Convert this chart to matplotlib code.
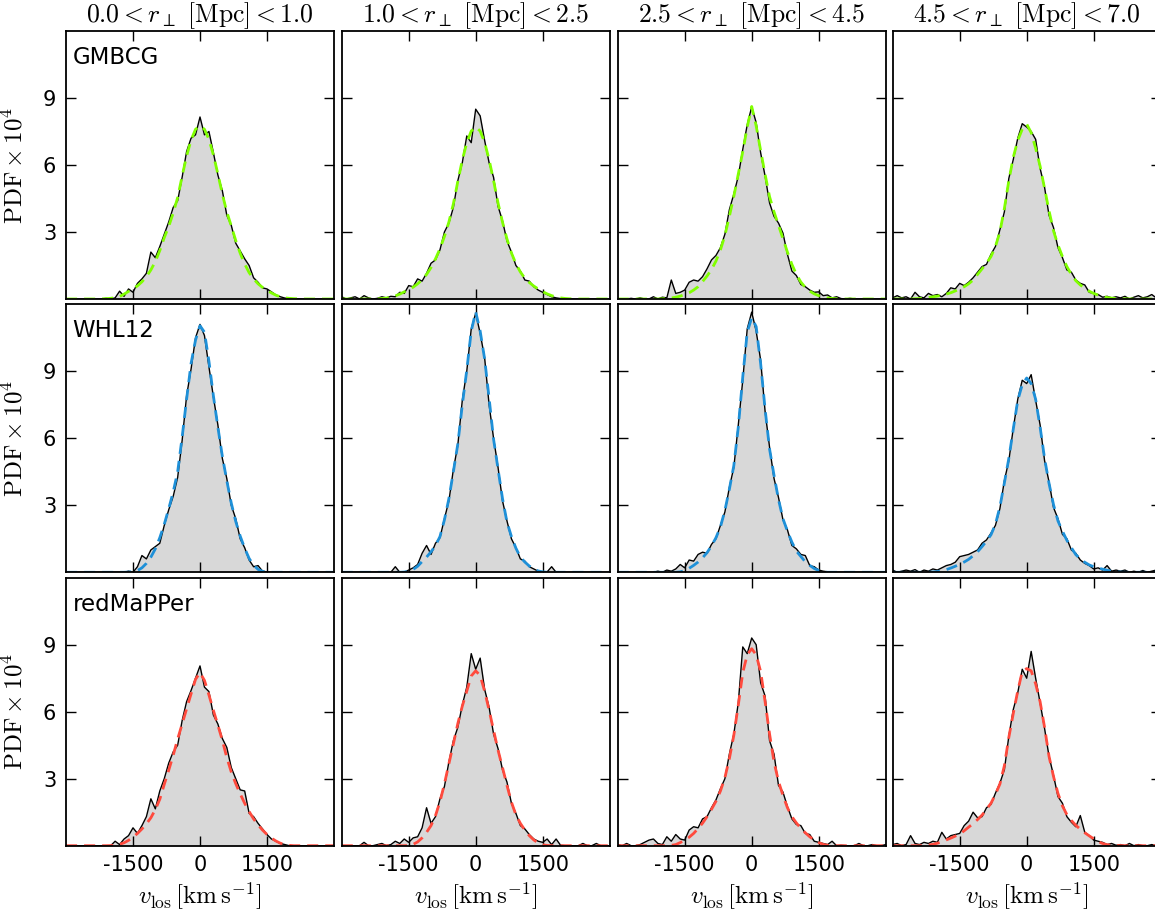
import numpy as np
import matplotlib.pyplot as plt

plt.rcParams['mathtext.fontset'] = 'cm'
plt.rcParams['font.family'] = 'DejaVu Sans'
plt.rcParams['axes.unicode_minus'] = False

# velocity grid, -3000 ... 3000 km/s in 100 km/s steps
v = np.arange(-3000, 3001, 100)

col_titles = [r'$0.0 < r_\perp\ [\mathrm{Mpc}] < 1.0$',
              r'$1.0 < r_\perp\ [\mathrm{Mpc}] < 2.5$',
              r'$2.5 < r_\perp\ [\mathrm{Mpc}] < 4.5$',
              r'$4.5 < r_\perp\ [\mathrm{Mpc}] < 7.0$']
catalogs = ['GMBCG', 'WHL12', 'redMaPPer']
fit_colors = ['#80ff00', '#1e90d8', '#ff4a3d']

# ---- GMBCG ----
gmbcg_hist_1 = [0, 0, 0, 0, 0, 0, 0, 0, 0, 0.03, 0,
                0.05, 0.35, 0.12, 0.45, 0.3, 0.7, 0.9, 1.15, 2.1, 1.85,
                2.35, 2.9, 3.45, 4.1, 4.4, 5.45, 6.6, 7.2, 7.35, 8.15,
                7.35, 7.5, 6.55, 5.55, 4.85, 3.75, 3.3, 2.5, 2.15, 1.8,
                1.5, 0.95, 0.75, 0.5, 0.45, 0.32, 0.18, 0.1, 0.04, 0.02,
                0, 0.01, 0, 0, 0, 0, 0, 0, 0, 0]
gmbcg_fit_1 = [0, 0, 0, 0, 0, 0, 0, 0, 0.007, 0.015, 0.03,
               0.058, 0.11, 0.22, 0.34, 0.45, 0.59, 0.77, 1.0, 1.3, 1.68,
               2.17, 2.75, 3.25, 3.85, 4.55, 5.5, 6.4, 7.12, 7.6, 7.75,
               7.6, 7.15, 6.45, 5.6, 4.7, 3.9, 3.27, 2.62, 2.05, 1.57,
               1.18, 0.9, 0.68, 0.52, 0.39, 0.27, 0.17, 0.095, 0.053, 0.03,
               0.015, 0.007, 0, 0, 0, 0, 0, 0, 0, 0]
gmbcg_hist_2 = [0.1, 0, 0.05, 0.1, 0, 0.15, 0.05, 0, 0.03, 0.1, 0.05,
                0.12, 0.1, 0.3, 0.25, 0.6, 0.55, 0.9, 0.8, 1.15, 1.6,
                1.75, 2.2, 3.0, 3.4, 4.1, 5.3, 6.1, 7.3, 7.0, 8.5,
                8.2, 7.1, 6.1, 5.45, 4.15, 3.5, 2.6, 2.1, 1.5, 1.25,
                0.85, 0.8, 0.55, 0.4, 0.3, 0.2, 0.1, 0.05, 0.02, 0,
                0, 0, 0, 0, 0, 0, 0, 0, 0, 0]
gmbcg_fit_2 = [0, 0, 0, 0, 0, 0, 0, 0, 0.01, 0.02, 0.04,
               0.08, 0.14, 0.22, 0.32, 0.41, 0.53, 0.68, 0.86, 1.1, 1.41,
               1.8, 2.25, 2.8, 3.45, 4.26, 5.27, 6.22, 7.0, 7.52, 7.7,
               7.52, 7.01, 6.24, 5.3, 4.3, 3.44, 2.69, 2.06, 1.58, 1.21,
               0.93, 0.74, 0.58, 0.45, 0.33, 0.23, 0.15, 0.09, 0.05, 0.025,
               0.01, 0.005, 0, 0, 0, 0, 0, 0, 0, 0]
gmbcg_hist_3 = [0, 0, 0, 0.03, 0, 0.05, 0, 0, 0.1, 0, 0.08,
                0.05, 0.85, 0.25, 0.3, 0.4, 0.75, 0.85, 0.8, 1.0, 1.35,
                1.75, 1.95, 2.3, 2.9, 4.0, 4.7, 5.5, 6.7, 7.8, 8.6,
                7.9, 6.55, 5.5, 4.3, 3.7, 3.4, 2.95, 2.0, 1.25, 1.05,
                0.65, 0.55, 0.4, 0.3, 0.32, 0.15, 0.18, 0.05, 0.1, 0.02,
                0, 0.03, 0, 0, 0, 0, 0, 0, 0, 0]
gmbcg_fit_3 = [0, 0, 0, 0, 0, 0, 0, 0, 0, 0, 0.01,
               0.02, 0.045, 0.08, 0.13, 0.2, 0.28, 0.4, 0.55, 0.78, 1.03,
               1.32, 1.7, 2.2, 2.85, 3.7, 4.6, 5.6, 6.6, 7.7, 8.62,
               7.75, 6.65, 5.58, 4.58, 3.9, 3.3, 2.7, 2.1, 1.55, 1.1,
               0.76, 0.52, 0.35, 0.23, 0.15, 0.09, 0.05, 0.025, 0.01, 0,
               0, 0, 0, 0, 0, 0, 0, 0, 0, 0]
gmbcg_hist_4 = [0.05, 0.15, 0.05, 0.1, 0.0, 0.3, 0.1, 0.05, 0.25, 0.15, 0.2,
                0.1, 0.25, 0.5, 0.45, 0.7, 0.6, 0.75, 0.95, 1.2, 1.45,
                1.55, 2.0, 2.35, 3.1, 3.9, 5.4, 6.25, 7.2, 7.85, 7.7,
                7.5, 7.15, 5.85, 5.0, 3.75, 3.2, 2.3, 1.85, 1.3, 1.2,
                0.85, 0.7, 0.63, 0.3, 0.25, 0.2, 0.08, 0.12, 0.05, 0.1,
                0.05, 0.12, 0, 0.08, 0.15, 0.05, 0.1, 0.2, 0.05, 0.15]
gmbcg_fit_4 = [0, 0, 0, 0, 0, 0.01, 0.02, 0.04, 0.07, 0.1, 0.13,
               0.17, 0.22, 0.28, 0.36, 0.45, 0.55, 0.68, 0.85, 1.1, 1.35,
               1.6, 1.9, 2.35, 3.0, 4.05, 5.3, 6.35, 7.1, 7.6, 7.83,
               7.45, 6.75, 5.95, 4.95, 3.95, 3.05, 2.42, 1.9, 1.45, 1.1,
               0.82, 0.63, 0.48, 0.35, 0.25, 0.17, 0.11, 0.07, 0.04, 0.025,
               0.015, 0.008, 0.004, 0, 0, 0, 0, 0, 0, 0]

# ---- WHL12 ----
whl_hist_1 = [0, 0, 0, 0, 0, 0, 0, 0, 0, 0, 0,
              0, 0, 0, 0.05, 0.0, 0.25, 0.75, 0.6, 1.0, 1.15,
              1.3, 2.1, 2.8, 3.4, 4.25, 5.9, 7.9, 9.1, 10.5, 11.1,
              10.6, 9.2, 7.85, 6.6, 5.1, 4.2, 3.0, 2.4, 1.5, 1.1,
              0.55, 0.25, 0.3, 0.05, 0.02, 0, 0, 0, 0, 0,
              0, 0, 0, 0, 0, 0, 0, 0, 0, 0]
whl_fit_1 = [0, 0, 0, 0, 0, 0, 0, 0, 0, 0, 0,
             0, 0, 0, 0.01, 0.03, 0.08, 0.2, 0.4, 0.68, 1.05,
             1.55, 2.15, 2.85, 3.6, 4.5, 6.05, 7.75, 9.35, 10.4, 11.04,
             10.75, 9.45, 7.9, 6.5, 5.2, 4.1, 3.1, 2.28, 1.62, 1.08,
             0.62, 0.32, 0.13, 0.04, 0.01, 0, 0, 0, 0, 0,
             0, 0, 0, 0, 0, 0, 0, 0, 0, 0]
whl_hist_2 = [0, 0, 0, 0, 0, 0, 0, 0, 0, 0, 0,
              0, 0.25, 0, 0, 0.1, 0.2, 0.35, 0.85, 1.2, 0.8,
              1.3, 1.55, 2.4, 3.2, 4.6, 5.7, 7.7, 9.0, 10.9, 11.6,
              10.7, 9.6, 7.5, 6.0, 4.7, 3.2, 2.3, 1.5, 1.1, 0.6,
              0.5, 0.25, 0.15, 0.05, 0, 0.02, 0.25, 0, 0, 0,
              0, 0, 0, 0, 0, 0, 0, 0, 0, 0]
whl_fit_2 = [0, 0, 0, 0, 0, 0, 0, 0, 0, 0, 0,
             0, 0, 0, 0.01, 0.05, 0.13, 0.27, 0.48, 0.68, 0.92,
             1.2, 1.6, 2.35, 3.3, 4.5, 5.75, 7.5, 9.05, 10.8, 11.66,
             10.8, 9.55, 7.8, 5.96, 4.62, 3.3, 2.25, 1.6, 1.08, 0.68,
             0.46, 0.28, 0.14, 0.06, 0.02, 0, 0, 0, 0, 0,
             0, 0, 0, 0, 0, 0, 0, 0, 0, 0]
whl_hist_3 = [0, 0, 0, 0, 0, 0, 0, 0, 0, 0.05, 0,
              0.1, 0.05, 0.15, 0.35, 0.2, 0.55, 0.5, 0.8, 0.9, 0.85,
              1.25, 1.5, 2.1, 2.7, 3.8, 4.7, 6.6, 8.6, 10.9, 11.65,
              10.8, 9.5, 7.2, 5.6, 4.2, 3.35, 2.35, 1.9, 1.2, 1.05,
              0.8, 0.75, 0.3, 0.25, 0.1, 0.05, 0.02, 0, 0, 0,
              0, 0, 0, 0, 0, 0, 0, 0, 0, 0]
whl_fit_3 = [0, 0, 0, 0, 0, 0, 0, 0, 0, 0, 0,
             0, 0, 0, 0.02, 0.08, 0.18, 0.31, 0.46, 0.65, 0.88,
             1.18, 1.55, 2.03, 2.77, 3.72, 4.78, 6.5, 8.75, 10.75, 11.4,
             11.0, 9.35, 7.3, 5.52, 4.34, 3.26, 2.4, 1.84, 1.35, 0.95,
             0.71, 0.47, 0.31, 0.17, 0.08, 0.02, 0, 0, 0, 0,
             0, 0, 0, 0, 0, 0, 0, 0, 0, 0]
whl_hist_4 = [0.1, 0, 0.05, 0.1, 0.05, 0.12, 0, 0.1, 0.05, 0.15, 0.1,
              0.2, 0.3, 0.35, 0.45, 0.7, 0.75, 0.8, 0.9, 1.0, 1.3,
              1.45, 1.75, 2.1, 2.85, 4.1, 5.0, 6.45, 7.75, 8.6, 8.45,
              8.85, 7.7, 6.6, 5.0, 4.05, 2.9, 2.4, 1.7, 1.5, 1.0,
              0.85, 0.55, 0.4, 0.3, 0.15, 0.2, 0.1, 0.3, 0.05, 0.1,
              0.05, 0.1, 0, 0.05, 0, 0.08, 0, 0.05, 0.1, 0]
whl_fit_4 = [0, 0, 0, 0, 0, 0, 0, 0, 0.005, 0.015, 0.035,
             0.07, 0.12, 0.19, 0.27, 0.36, 0.46, 0.58, 0.74, 0.92, 1.15,
             1.4, 1.68, 2.15, 2.93, 4.0, 5.1, 6.42, 7.7, 8.4, 8.7,
             8.45, 7.75, 6.5, 5.1, 3.98, 3.03, 2.3, 1.84, 1.43, 1.1,
             0.79, 0.6, 0.45, 0.33, 0.25, 0.19, 0.14, 0.09, 0.05, 0.02,
             0.01, 0, 0, 0, 0, 0, 0, 0, 0, 0]

# ---- redMaPPer ----
redm_hist_1 = [0, 0, 0, 0, 0, 0, 0, 0, 0, 0, 0,
               0.2, 0.05, 0.3, 0.45, 0.8, 0.55, 0.9, 1.3, 2.1, 1.65,
               2.45, 3.0, 3.7, 4.2, 4.5, 5.6, 6.45, 6.95, 7.5, 8.05,
               7.1, 6.9, 5.85, 5.45, 4.8, 4.4, 3.5, 3.0, 2.5, 2.45,
               1.45, 1.3, 1.0, 0.75, 0.5, 0.3, 0.2, 0.1, 0.05, 0,
               0, 0, 0, 0, 0, 0, 0, 0, 0, 0]
redm_fit_1 = [0, 0, 0, 0, 0, 0, 0, 0, 0, 0, 0.005,
              0.02, 0.06, 0.13, 0.24, 0.38, 0.55, 0.75, 0.98, 1.25, 1.62,
              2.08, 2.75, 3.38, 4.05, 4.78, 5.45, 6.13, 6.8, 7.45, 7.75,
              7.4, 6.75, 6.06, 5.4, 4.72, 3.95, 3.3, 2.78, 2.32, 1.9,
              1.53, 1.2, 0.93, 0.7, 0.5, 0.34, 0.21, 0.11, 0.05, 0.015,
              0, 0, 0, 0, 0, 0, 0, 0, 0, 0]
redm_hist_2 = [0, 0, 0, 0, 0, 0.15, 0, 0, 0.05, 0.1, 0,
               0.05, 0.2, 0.1, 0.3, 0.15, 0.35, 0.4, 0.8, 1.7, 1.0,
               1.3, 2.1, 2.65, 3.75, 4.7, 5.3, 6.3, 7.1, 8.6, 7.9,
               8.4, 7.0, 6.2, 5.0, 4.35, 3.4, 2.85, 1.9, 1.45, 0.9,
               0.75, 0.5, 0.3, 0.2, 0.15, 0.3, 0.05, 0.3, 0.02, 0,
               0, 0, 0, 0.1, 0, 0, 0.1, 0, 0, 0]
redm_fit_2 = [0, 0, 0, 0, 0, 0, 0, 0, 0, 0, 0,
              0, 0, 0, 0, 0.01, 0.06, 0.17, 0.35, 0.6, 0.9,
              1.35, 1.97, 2.77, 3.67, 4.56, 5.47, 6.25, 6.92, 7.6, 7.83,
              7.62, 6.92, 6.07, 5.17, 4.28, 3.5, 2.7, 1.95, 1.38, 1.0,
              0.7, 0.45, 0.26, 0.12, 0.04, 0.01, 0, 0, 0, 0,
              0, 0, 0, 0, 0, 0, 0, 0, 0, 0]
redm_hist_3 = [0.05, 0, 0.1, 0, 0, 0.05, 0.15, 0.25, 0.3, 0.1, 0.05,
               0.4, 0.2, 0.5, 0.3, 0.25, 0.7, 0.85, 0.8, 1.2, 1.3,
               1.7, 2.05, 2.55, 3.0, 4.1, 5.0, 6.4, 8.9, 8.6, 9.3,
               9.0, 7.3, 6.7, 4.7, 4.1, 2.7, 2.4, 1.75, 1.2, 0.95,
               0.9, 0.55, 0.5, 0.2, 0.15, 0.1, 0.05, 0.2, 0, 0.02,
               0, 0, 0, 0.1, 0, 0, 0.05, 0, 0, 0.05]
redm_fit_3 = [0, 0, 0, 0, 0, 0, 0, 0, 0, 0, 0,
              0, 0.015, 0.05, 0.14, 0.25, 0.38, 0.55, 0.77, 1.01, 1.3,
              1.63, 1.99, 2.45, 3.05, 3.9, 4.95, 6.3, 7.75, 8.55, 8.82,
              8.55, 7.8, 6.45, 5.0, 3.75, 2.88, 2.25, 1.7, 1.3, 1.02,
              0.78, 0.58, 0.4, 0.25, 0.14, 0.06, 0.02, 0, 0, 0,
              0, 0, 0, 0, 0, 0, 0, 0, 0, 0]
redm_hist_4 = [0.05, 0.1, 0, 0.05, 0.45, 0.1, 0.05, 0.15, 0.1, 0.2, 0.15,
               0.6, 0.3, 0.45, 0.5, 0.55, 0.9, 1.1, 1.5, 1.25, 1.3,
               1.7, 1.85, 2.35, 2.8, 3.4, 4.9, 6.1, 6.85, 7.9, 7.5,
               8.7, 7.5, 6.4, 5.25, 4.0, 3.15, 2.2, 1.9, 1.3, 1.05,
               0.85, 1.35, 0.6, 0.45, 0.25, 0.2, 0.15, 0.05, 0.1, 0.02,
               0.05, 0, 0.1, 0, 0.05, 0, 0, 0.05, 0, 0]
redm_fit_4 = [0, 0, 0, 0, 0, 0, 0, 0.01, 0.03, 0.06, 0.11,
              0.18, 0.26, 0.34, 0.43, 0.52, 0.67, 0.83, 0.99, 1.17, 1.37,
              1.63, 1.9, 2.3, 2.76, 3.58, 4.85, 5.93, 6.93, 7.8, 7.93,
              7.83, 7.25, 6.45, 5.3, 4.0, 3.1, 2.34, 1.78, 1.39, 1.13,
              0.91, 0.74, 0.58, 0.44, 0.31, 0.18, 0.1, 0.045, 0.02, 0.01,
              0.005, 0, 0, 0, 0, 0, 0, 0, 0, 0]

hists = [[gmbcg_hist_1, gmbcg_hist_2, gmbcg_hist_3, gmbcg_hist_4],
         [whl_hist_1, whl_hist_2, whl_hist_3, whl_hist_4],
         [redm_hist_1, redm_hist_2, redm_hist_3, redm_hist_4]]
fits = [[gmbcg_fit_1, gmbcg_fit_2, gmbcg_fit_3, gmbcg_fit_4],
        [whl_fit_1, whl_fit_2, whl_fit_3, whl_fit_4],
        [redm_fit_1, redm_fit_2, redm_fit_3, redm_fit_4]]

W, H = 1155., 915.
fig = plt.figure(figsize=(W / 100, H / 100), dpi=100)

col_left = [66., 341.7, 617.7, 892.7]
row_bottom = [299., 572.3, 845.7]
pw, ph = 268., 268.

for i in range(3):
    for j in range(4):
        ax = fig.add_axes([col_left[j] / W, 1 - row_bottom[i] / H, pw / W, ph / H])
        h = np.array(hists[i][j])
        f = np.array(fits[i][j])
        ax.fill_between(v, 0, h, color='#d8d8d8', lw=0)
        ax.plot(v, h, color='k', lw=1.0)
        ax.plot(v, f, color=fit_colors[i], lw=2, dashes=(4, 2.5))
        ax.set_xlim(-3000, 3000)
        ax.set_ylim(0, 12)
        ax.set_xticks([-1500, 0, 1500])
        ax.set_yticks([3, 6, 9])
        ax.tick_params(direction='in', top=True, right=True, length=7,
                       width=1, labelsize=15, pad=7)
        for s in ax.spines.values():
            s.set_linewidth(1.3)
        if j == 0:
            ax.set_ylabel(r'$\mathrm{PDF}\times10^4$', fontsize=18)
            ax.yaxis.set_label_coords(-0.145, 0.5)
            ax.text(0.025, 0.877, catalogs[i], transform=ax.transAxes,
                    fontsize=16.5, va='baseline')
        else:
            ax.set_yticklabels([])
        if i == 2:
            ax.set_xlabel(r'$v_{\rm los}\,[\mathrm{km\,s^{-1}}]$', fontsize=18)
            ax.xaxis.set_label_coords(0.5, -0.13)
        else:
            ax.set_xticklabels([])
        if i == 0:
            ax.set_title(col_titles[j], fontsize=18.5, pad=6)

fig.savefig('out.png', dpi=100)
